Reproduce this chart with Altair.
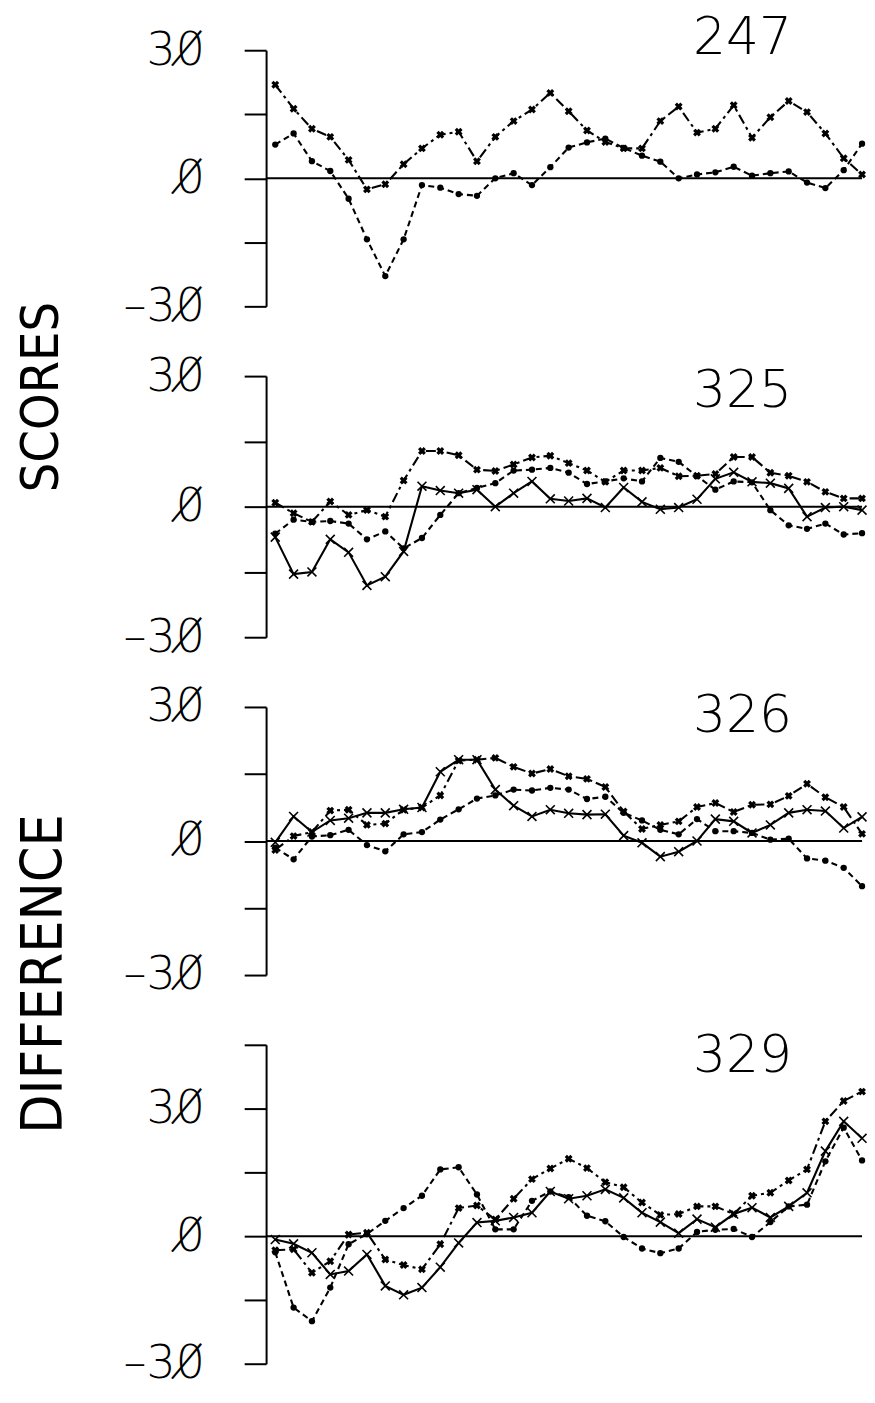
import altair as alt
import pandas as pd

# 33 successive readings per record
sample = list(range(1, 34))

rec_247_a = [21.9, 16.3, 11.6, 9.7, 4.3, -2.6, -1.4, 3.3, 7.0, 10.2, 10.9, 4.0, 9.7, 13.4, 16.1, 20.0,
             15.7, 11.2, 8.5, 7.0, 7.0, 13.4, 16.8, 10.7, 11.6, 17.1, 9.5, 14.3, 18.1, 15.5, 10.5, 4.7, 0.9]
rec_247_b = [7.9, 10.5, 4.0, 1.7, -4.8, -14.3, -22.9, -14.3, -1.6, -2.2, -3.7, -4.1, 0.0, 1.2, -1.6, 2.6,
             7.2, 8.4, 9.3, 7.1, 5.3, 3.9, 0.0, 0.9, 1.4, 2.7, 0.6, 1.2, 1.6, -1.0, -2.3, 1.9, 8.1]

rec_325_a = [0.9, -1.5, -3.5, 1.2, -1.9, -0.8, -2.3, 6.0, 12.8, 12.8, 11.8, 8.5, 8.2, 9.7, 11.3, 11.7,
             10.0, 8.3, 5.7, 8.3, 8.3, 8.9, 7.0, 7.1, 7.5, 11.4, 11.4, 7.8, 7.1, 5.7, 3.4, 1.9, 1.9]
rec_325_b = [-6.2, -3.0, -3.5, -3.3, -3.9, -7.5, -5.7, -9.6, -7.2, -1.9, 3.1, 4.3, 5.4, 8.3, 8.5, 8.9,
             7.8, 5.2, 5.8, 6.5, 5.8, 11.2, 10.3, 7.0, 3.9, 5.8, 5.6, -0.8, -4.3, -5.1, -3.9, -6.4, -6.1]
rec_325_c = [-7.0, -15.5, -15.0, -7.5, -10.5, -18.1, -16.1, -10.3, 4.7, 3.7, 3.1, 3.9, 0.0, 3.1, 5.8, 1.8,
             1.3, 1.9, -0.2, 4.4, 1.1, -0.6, -0.2, 1.7, 6.4, 7.9, 5.7, 5.4, 4.2, -2.3, -0.2, 0.0, -0.8]

rec_326_a = [-2.0, 1.1, 2.0, 6.8, 7.0, 3.6, 3.9, 7.0, 7.5, 10.2, 18.0, 18.2, 18.6, 16.6, 15.1, 16.1,
             14.5, 13.9, 12.1, 6.6, 2.7, 3.6, 4.4, 7.6, 8.5, 6.5, 8.1, 8.2, 10.1, 12.8, 9.8, 7.6, 1.6]
rec_326_b = [-1.5, -4.1, 1.0, 1.3, 2.5, -0.9, -2.3, 1.5, 2.0, 4.8, 7.1, 9.5, 10.2, 11.5, 11.3, 11.9,
             11.5, 9.4, 9.9, 6.3, 4.6, 2.5, 1.5, 4.9, 2.2, 2.2, 1.8, 0.3, 0.5, -3.9, -4.4, -6.0, -10.1]
rec_326_c = [-0.3, 5.5, 2.0, 4.6, 5.1, 6.3, 6.3, 7.1, 7.5, 15.5, 18.2, 18.2, 11.5, 7.9, 5.5, 7.0,
             6.2, 5.9, 6.0, 1.2, -0.4, -3.5, -2.4, 0.0, 4.9, 4.4, 1.8, 3.6, 6.3, 7.0, 6.7, 2.9, 5.4]

rec_329_a = [-3.3, -3.1, -8.6, -5.9, 0.4, 0.8, -5.5, -6.8, -7.8, -1.9, 6.6, 7.2, 3.9, 8.8, 13.4, 15.9,
             18.2, 16.0, 12.7, 11.5, 7.9, 5.0, 5.2, 7.0, 7.0, 5.2, 9.5, 10.2, 13.1, 15.7, 27.0, 31.8, 34.0]
rec_329_b = [-3.8, -16.8, -20.0, -12.1, -1.9, 0.5, 3.6, 6.6, 9.5, 15.7, 16.2, 9.8, 1.6, 1.6, 8.3, 10.5,
             9.2, 4.8, 3.5, -0.2, -2.9, -4.0, -2.9, 1.0, 1.5, 1.7, -0.2, 3.3, 7.0, 7.4, 17.6, 25.5, 17.8]
rec_329_c = [-0.8, -1.8, -3.9, -9.0, -8.2, -4.3, -11.7, -13.8, -12.1, -7.3, -1.6, 3.2, 3.6, 4.4, 5.5, 10.5,
             8.8, 9.5, 11.0, 9.0, 5.5, 3.3, 0.7, 4.0, 2.1, 5.2, 6.7, 4.4, 7.0, 10.2, 20.0, 27.0, 23.0]

X_MIN, X_MAX = 0.5, 33
PLOT_W = 598
INK = "black"
ZERO = "0\u0338"  # plotter-style slashed zero
NUM_FONT = "DejaVu Sans"
WORD_FONT = "Liberation Sans Narrow, DejaVu Sans Condensed, Liberation Sans"
TEXT_WEIGHT = 300

# line and marker style of each trace
STYLES = {
    "a": dict(dash=[10, 4, 3, 4],
              point=dict(shape="cross", angle=45, filled=True, size=64)),
    "b": dict(dash=[6, 4],
              point=dict(shape="circle", filled=True, size=40)),
    "c": dict(dash=None,
              point=dict(shape="M-1,-1L1,1M-1,1L1,-1", filled=False, size=80, strokeWidth=1.6)),
}

label_expr = (
    f"datum.value == 30 ? '3{ZERO}' : datum.value == 0 ? '{ZERO}' : "
    f"datum.value == -30 ? '\u20133{ZERO}' : ''"
)


def panel(label, traces, y_top, height, title_y, extras=()):
    df = pd.concat(
        [pd.DataFrame({"sample": sample, "score": vals, "trace": key}) for key, vals in traces],
        ignore_index=True,
    )
    x_enc = alt.X("sample:Q", axis=None,
                  scale=alt.Scale(domain=[X_MIN, X_MAX], nice=False, zero=False))
    y_enc = alt.Y(
        "score:Q", title="",
        scale=alt.Scale(domain=[-30, y_top], nice=False, zero=False),
        axis=alt.Axis(values=list(range(y_top, -31, -15)), labelExpr=label_expr,
                      grid=False, domainColor=INK, domainWidth=2, tickColor=INK, tickWidth=2,
                      tickSize=22, labelPadding=40, labelFont=NUM_FONT, labelFontSize=46,
                      labelFontWeight=TEXT_WEIGHT, labelColor=INK, labelOverlap=False,
                      labelFlush=False),
    )
    layers = [
        alt.Chart(pd.DataFrame({"sample": [X_MIN, X_MAX], "score": [0, 0]}))
        .mark_line(color=INK, strokeWidth=2)
        .encode(x=x_enc, y=y_enc)
    ]
    for key, _ in traces:
        st = STYLES[key]
        src = alt.Chart(df).transform_filter(alt.datum.trace == key)
        line_kw = dict(color=INK, strokeWidth=2.1)
        if st["dash"]:
            line_kw["strokeDash"] = st["dash"]
        layers.append(src.mark_line(**line_kw).encode(x=x_enc, y=y_enc))
        layers.append(src.mark_point(color=INK, opacity=1, **st["point"]).encode(x=x_enc, y=y_enc))
    layers.append(
        alt.Chart(alt.Data(values=[{}]))
        .mark_text(text=label, font=NUM_FONT, fontSize=52, fontWeight=TEXT_WEIGHT, color=INK,
                   align="center", baseline="middle")
        .encode(x=alt.value(478), y=alt.value(title_y))
    )
    layers.extend(extras)
    return alt.layer(*layers).properties(width=PLOT_W, height=height)


# side caption, reading bottom to top, plus a blank corner mark fixing the page origin
side = [
    alt.Chart(alt.Data(values=[{}]))
    .mark_text(text="SCORES", font=WORD_FONT, fontSize=52, fontWeight=TEXT_WEIGHT, angle=270,
               color=INK, align="center", baseline="middle")
    .encode(x=alt.value(-225), y=alt.value(348)),
    alt.Chart(alt.Data(values=[{}]))
    .mark_text(text="DIFFERENCE", font=WORD_FONT, fontSize=57, fontWeight=TEXT_WEIGHT, angle=270,
               color=INK, align="center", baseline="middle")
    .encode(x=alt.value(-222), y=alt.value(927)),
    alt.Chart(alt.Data(values=[{}]))
    .mark_rule(color="white", strokeWidth=1)
    .encode(x=alt.value(-261.5), x2=alt.value(-261.5), y=alt.value(-42.2), y2=alt.value(-40)),
]

p247 = panel("247", [("a", rec_247_a), ("b", rec_247_b)], 30, 257, -12.7, side)
p325 = panel("325", [("a", rec_325_a), ("b", rec_325_b), ("c", rec_325_c)], 30, 262, 15)
p326 = panel("326", [("a", rec_326_a), ("b", rec_326_b), ("c", rec_326_c)], 30, 269, 9)
p329 = panel("329", [("a", rec_329_a), ("b", rec_329_b), ("c", rec_329_c)], 45, 320, 11)

chart = (
    alt.vconcat(p247, p325, p326, p329, spacing=70, bounds="flush")
    .configure_view(strokeWidth=0)
    .properties(background="white")
)

chart.save("out.html", embed_options={"renderer": "svg", "actions": False})
